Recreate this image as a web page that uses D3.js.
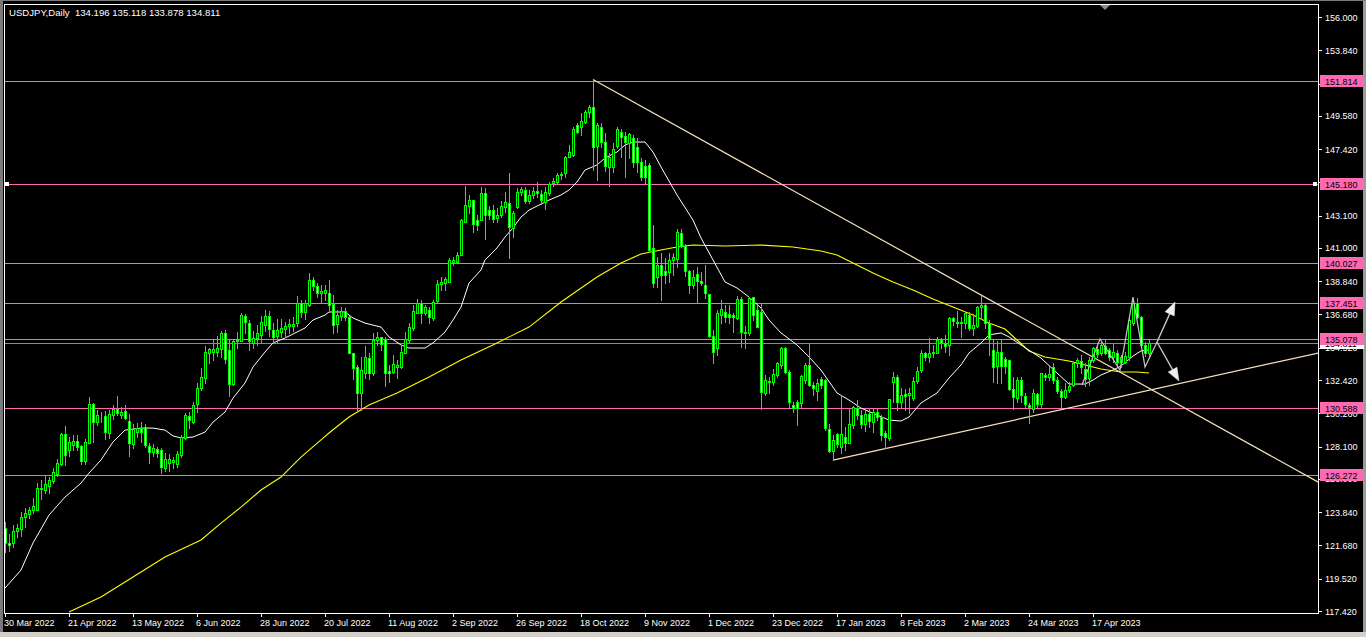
<!DOCTYPE html>
<html><head><meta charset="utf-8">
<script src="https://cdn.jsdelivr.net/npm/d3@7"></script>
<style>
html,body{margin:0;padding:0;background:#000;overflow:hidden}
svg{display:block}
</style></head><body>
<svg id="chart" width="1366" height="637"></svg>
<script>
// ---------------- data ----------------
const symbolTitle = "USDJPY,Daily";
const lastBarText = ["134.196", "135.118", "133.878", "134.811"];

// daily candles [open, high, low, close], bar 0 = 30 Mar 2022
const candles = [
[122.81,123.20,121.25,121.84],[121.84,122.40,121.30,121.68],[121.84,123.00,121.60,122.60],[122.60,123.10,122.25,122.80],
[122.73,123.83,122.30,123.55],[123.50,124.10,122.90,123.77],[123.70,124.20,123.44,123.98],[123.98,124.74,123.77,124.26],
[124.00,125.72,124.00,125.39],[125.32,125.93,124.67,125.43],[125.28,126.25,125.06,125.67],[125.54,126.14,125.06,125.93],
[125.88,126.69,125.75,126.43],[126.32,127.27,126.19,127.01],[126.97,129.00,126.90,128.92],[128.92,129.44,126.90,127.55],
[127.88,128.74,127.47,128.39],[128.20,128.85,127.88,128.48],[128.48,128.85,127.90,128.10],[128.14,128.20,126.97,127.19],
[127.19,128.57,126.95,128.42],[128.35,131.30,128.35,130.86],[130.86,130.90,128.42,129.68],[129.68,130.47,129.50,130.17],
[130.12,130.36,129.72,130.17],[130.08,130.42,128.57,129.07],[129.00,130.47,128.64,130.21],[130.15,130.80,129.87,130.54],
[130.52,131.38,130.15,130.30],[130.15,130.69,129.94,130.36],[130.40,130.80,129.87,129.94],[129.78,130.21,127.49,128.31],
[128.27,129.56,127.99,129.22],[129.07,129.61,128.74,129.29],[129.29,129.72,128.42,129.07],[129.35,129.56,128.09,128.20],
[128.14,128.31,127.01,127.77],[127.77,128.27,127.49,127.98],[127.92,128.09,127.44,127.66],[127.87,127.98,126.37,126.79],
[126.73,127.66,126.53,127.30],[127.05,127.60,126.53,127.27],[127.10,127.40,126.70,127.20],[127.00,127.80,126.80,127.60],
[127.55,128.85,127.40,128.74],[128.64,130.25,128.60,130.15],[130.08,130.35,129.30,129.82],[129.72,131.00,129.60,130.80],
[130.86,132.20,130.36,131.92],[131.89,133.20,131.80,132.60],[132.54,134.60,132.20,134.27],[134.20,134.50,133.50,134.42],
[134.27,135.00,133.70,134.42],[134.27,135.27,134.00,134.49],[134.42,135.60,133.90,135.45],[135.45,135.70,133.55,133.77],
[134.37,135.00,131.40,132.16],[132.16,135.00,132.10,134.95],[134.95,135.56,134.53,135.05],[134.98,136.80,134.95,136.64],
[136.58,136.70,135.45,136.20],[136.15,136.30,134.40,134.95],[134.85,135.60,134.50,135.13],[135.13,136.00,134.70,135.50],
[135.35,136.60,134.90,136.20],[136.00,137.00,135.60,136.58],[136.58,136.90,135.30,135.72],[135.67,136.10,134.80,135.20],
[135.28,136.40,134.80,135.67],[135.56,136.40,135.20,135.80],[135.72,136.20,135.20,135.93],[135.90,136.40,135.50,136.06],
[135.95,136.50,135.60,136.06],[136.10,137.90,135.90,137.44],[137.40,137.60,136.50,136.86],[136.82,137.60,136.40,137.44],
[137.30,139.40,137.23,138.92],[138.92,139.10,138.30,138.50],[138.53,138.70,137.80,138.05],[138.05,138.60,137.40,138.20],
[138.05,138.60,137.60,138.27],[138.10,138.90,137.00,137.30],[137.36,137.95,135.45,136.00],[136.06,137.00,135.56,136.65],
[136.58,137.19,136.30,136.93],[136.93,137.08,136.30,136.54],[136.54,136.58,134.16,134.20],[134.20,134.20,132.47,133.18],
[133.25,133.40,130.37,131.56],[131.56,133.90,130.50,133.10],[132.86,134.60,132.53,133.90],[133.83,134.15,132.47,132.90],
[132.86,135.45,132.75,135.02],[135.00,135.56,134.70,135.20],[135.20,135.24,134.37,134.76],[135.07,135.24,132.04,132.86],
[133.03,133.40,132.30,132.86],[132.97,134.05,132.86,133.47],[133.30,133.70,132.53,133.40],[133.30,134.70,133.20,134.22],
[134.20,135.56,134.16,135.07],[135.02,136.10,134.90,135.89],[135.82,137.30,135.67,136.93],[136.80,137.66,136.75,137.45],
[137.45,137.60,136.10,136.75],[136.75,137.30,136.65,137.14],[137.00,137.19,136.15,136.50],[136.43,137.62,136.30,137.51],
[137.58,138.90,137.51,138.66],[138.66,139.10,138.27,138.81],[138.70,139.14,138.27,138.96],[138.81,140.33,138.81,140.22],
[140.10,140.43,139.90,140.20],[140.10,140.76,140.00,140.55],[140.55,142.86,140.55,142.82],[142.71,145.02,142.71,143.79],
[143.73,144.44,143.25,144.12],[144.12,144.12,142.06,142.56],[142.82,143.14,142.17,142.50],[142.82,144.94,142.82,144.55],
[144.55,144.87,141.56,143.14],[143.47,143.73,142.86,143.14],[143.47,143.79,142.71,142.86],[142.93,143.57,142.71,143.14],
[143.14,144.07,143.03,143.73],[143.64,144.66,143.36,144.00],[143.95,145.89,140.33,142.38],[142.28,143.42,141.73,143.30],
[143.68,144.87,143.57,144.66],[144.66,144.94,144.44,144.81],[144.77,144.98,143.90,144.07],[144.07,144.77,143.90,144.44],
[144.44,144.98,144.22,144.70],[144.70,145.30,144.30,144.55],[144.50,144.77,143.86,144.12],[144.01,144.94,143.51,144.66],
[144.55,145.30,144.44,145.13],[145.20,145.52,145.02,145.37],[145.30,145.85,145.20,145.74],[145.74,145.95,145.46,145.80],
[145.85,146.97,145.59,146.90],[146.93,147.69,146.88,147.26],[147.04,148.88,146.97,148.70],[148.99,149.10,148.44,148.55],
[148.88,149.74,148.34,149.27],[149.20,149.96,149.10,149.85],[149.85,150.29,149.53,150.18],[150.13,151.91,146.06,147.58],
[147.62,149.10,145.41,148.99],[148.84,149.14,147.58,147.90],[147.90,148.44,146.00,146.30],[146.24,147.15,145.02,146.93],
[146.24,147.84,145.96,147.40],[147.62,148.84,147.47,148.70],[148.55,148.70,146.88,148.18],[148.27,148.55,145.63,147.90],
[147.84,148.49,146.82,148.38],[148.12,148.34,146.28,146.60],[147.58,148.12,145.96,146.60],[146.60,146.82,145.41,145.59],
[146.33,146.71,145.15,145.63],[146.39,146.50,140.76,140.87],[140.98,142.50,138.44,138.75],[139.09,140.43,138.49,139.90],
[139.89,140.65,137.62,139.24],[139.52,140.33,138.70,139.24],[139.46,140.65,138.81,140.22],[140.22,140.65,139.24,140.39],
[140.26,142.21,139.78,142.06],[141.99,142.21,141.08,141.13],[141.13,141.26,139.18,139.52],[139.52,139.57,138.05,138.59],
[138.59,139.57,138.38,139.09],[139.31,139.78,137.51,138.88],[138.86,139.46,138.59,138.70],[138.59,139.89,137.73,138.10],
[138.00,138.00,135.19,135.28],[135.28,135.67,133.55,134.26],[134.48,136.97,134.05,136.75],[136.64,137.62,136.10,137.01],
[136.86,137.30,136.21,136.49],[136.69,137.30,136.10,136.53],[136.64,136.75,135.56,136.53],[136.43,137.88,136.36,137.66],
[137.66,137.84,134.59,135.56],[135.56,135.93,134.48,135.45],[135.45,137.84,135.35,137.73],[137.79,137.84,136.32,136.64],
[136.97,137.30,135.84,135.89],[136.86,137.45,130.51,131.66],[131.56,132.75,131.45,132.42],[132.38,132.64,131.56,132.32],
[132.32,133.12,132.10,132.81],[132.75,133.61,132.60,133.51],[133.40,134.55,133.18,134.48],[134.48,134.55,132.90,132.97],
[132.97,133.07,130.69,131.02],[130.80,131.02,130.37,130.58],[131.02,131.12,129.50,130.58],[130.95,132.75,130.58,132.68],
[132.42,133.55,132.20,133.40],[133.40,134.76,132.03,132.10],[132.10,132.31,131.45,131.88],[131.73,132.47,131.12,132.20],
[132.47,132.60,131.88,132.10],[132.42,132.50,129.20,129.29],[129.22,129.57,127.77,127.83],[127.83,128.85,127.23,128.53],
[128.92,128.96,128.09,128.27],[128.05,131.45,127.70,128.92],[128.74,129.40,127.87,128.35],[128.35,130.58,128.31,129.57],
[129.50,130.73,129.29,130.65],[130.58,131.12,129.87,130.15],[130.15,130.47,129.29,129.57],[129.57,130.51,129.13,130.22],
[130.22,130.58,129.40,129.78],[129.72,130.51,129.07,130.37],[130.37,130.51,129.83,130.04],[130.04,130.15,128.53,128.85],
[128.96,129.13,127.98,128.70],[128.63,131.20,128.53,131.16],[132.31,132.96,131.02,132.60],[132.64,132.75,130.47,131.02],
[131.02,131.88,130.69,131.45],[131.50,131.82,130.47,131.38],[131.45,131.88,130.26,131.56],[131.23,132.64,131.12,132.38],
[132.38,133.29,132.20,133.03],[133.07,134.37,132.97,134.16],[134.16,134.26,133.72,133.90],[133.90,135.13,133.61,134.20],
[134.16,134.70,133.94,134.26],[134.20,135.24,134.16,135.02],[135.02,135.13,134.48,134.85],[134.80,135.35,134.26,134.63],
[134.70,136.49,134.05,136.43],[136.43,136.53,135.99,136.28],[136.21,136.92,135.89,136.10],[136.10,136.49,135.24,136.21],
[136.10,136.86,135.78,136.75],[136.64,136.86,135.67,135.78],[135.78,136.71,135.35,136.00],[135.93,137.23,135.84,137.14],
[137.14,137.88,136.36,137.30],[137.30,137.35,135.78,136.10],[136.10,136.32,134.05,135.13],[134.37,135.02,132.31,133.25],
[133.33,134.98,132.21,134.26],[134.26,135.02,132.21,133.33],[133.77,133.90,132.86,133.33],[133.72,133.75,131.77,131.82],
[131.82,132.64,130.52,131.30],[131.23,132.64,131.02,132.42],[132.42,132.64,131.02,131.45],[131.38,131.56,130.69,130.87],
[130.80,130.95,129.61,130.69],[130.52,131.82,130.37,131.56],[131.52,131.56,130.69,130.87],[130.87,132.90,130.65,132.86],
[132.77,132.86,132.42,132.64],[132.64,133.40,132.42,132.81],[133.25,133.51,132.21,132.42],[132.42,132.64,131.56,131.73],
[131.71,131.82,130.58,131.30],[131.34,132.21,131.23,131.77],[131.77,132.31,131.67,132.03],[132.10,133.61,132.03,133.55],
[133.51,133.83,133.29,133.72],[133.68,134.05,132.86,133.25],[133.12,133.51,132.03,132.47],[132.53,133.94,132.10,133.72],
[133.72,134.59,133.61,134.48],[134.41,134.70,133.94,134.11],[134.16,134.91,134.05,134.70],[134.63,135.07,134.11,134.20],
[134.37,134.48,133.72,133.90],[133.90,134.80,133.61,134.26],[134.20,134.37,133.40,133.61],[133.61,134.05,133.29,133.90],
[133.61,134.26,133.51,133.98],[133.90,136.43,133.72,136.32],[136.10,137.73,135.99,137.45],[137.45,137.73,136.43,136.50],
[136.49,136.58,134.59,134.70],[134.70,134.91,134.00,134.20],[134.196,135.118,133.878,134.811]
];

// white moving average, sampled [bar, price]
const whiteMA = [
[0,118.91],[4,120.08],[7,121.84],[11,123.65],[15,124.82],[19,125.73],[21,126.38],[24,127.23],[27,128.40],[30,129.17],
[34,129.30],[37,129.30],[40,129.17],[42,128.79],[44,128.66],[47,128.72],[50,129.04],[52,129.69],[55,130.34],[57,131.25],
[60,132.23],[62,133.27],[65,134.24],[67,134.83],[70,135.15],[72,135.41],[75,135.80],[77,136.32],[80,136.64],[81,136.84],
[85,136.84],[87,136.45],[90,136.12],[94,135.86],[96,135.22],[99,134.70],[101,134.50],[105,134.50],[107,134.83],[110,135.54],
[112,136.32],[114,137.16],[116,138.72],[119,139.57],[120,140.22],[123,141.00],[125,141.71],[127,142.30],[129,143.01],[131,143.46],
[134,143.85],[136,144.11],[139,144.44],[141,144.76],[143,145.28],[145,146.06],[148,146.39],[150,146.84],[153,147.23],[155,147.69],
[157,147.88],[160,147.88],[162,147.23],[164,146.26],[168,144.44],[172,142.81],[174,141.65],[177,140.22],[180,138.79],[183,138.40],
[186,137.81],[189,137.10],[191,136.32],[194,135.48],[198,134.70],[201,133.92],[204,133.07],[208,131.58],[211,131.12],[214,130.60],
[218,130.15],[221,129.82],[224,129.76],[226,130.02],[229,130.93],[233,131.58],[236,132.55],[239,133.40],[241,134.18],[244,134.83],
[246,135.35],[249,135.48],[251,135.22],[254,134.70],[259,133.85],[263,132.88],[266,132.16],[270,132.16],[272,132.42],[274,132.75],
[277,133.07],[279,133.33],[282,133.98],[284,134.31],[286,134.37]
];

// yellow moving average, sampled [bar, price]
const yellowMA = [
[16,117.35],[24,118.33],[32,119.63],[40,120.93],[49,122.03],[54,123.13],[59,124.17],[64,125.28],[69,126.12],[74,127.42],
[79,128.53],[81,128.98],[86,130.02],[91,130.80],[98,131.58],[106,132.62],[114,133.72],[123,134.83],[131,135.86],[139,137.49],
[148,139.11],[154,140.02],[159,140.61],[164,140.87],[168,141.06],[172,141.19],[180,141.13],[189,141.19],[197,141.06],[204,140.80],
[208,140.54],[212,140.02],[217,139.37],[222,138.79],[227,138.27],[232,137.68],[237,137.16],[242,136.64],[246,136.12],[250,135.73],
[253,135.02],[256,134.31],[260,133.92],[266,133.66],[270,133.40],[274,133.14],[279,132.94],[283,132.94],[286,132.88]
];

const levels = [151.814, 145.180, 140.027, 137.451, 135.078, 130.588, 126.272];
const selectedLevel = 145.180;
const bidPrice = 134.811;

const priceTicks = ["156.000","153.840","151.680","149.580","147.420","145.260","143.100","141.000","138.840","136.680",
  "134.520","132.420","130.260","128.100","126.000","123.840","121.680","119.520","117.420"];

const dateTicks = [[0,"30 Mar 2022"],[16,"21 Apr 2022"],[32,"13 May 2022"],[48,"6 Jun 2022"],[64,"28 Jun 2022"],
  [80,"20 Jul 2022"],[96,"11 Aug 2022"],[112,"2 Sep 2022"],[128,"26 Sep 2022"],[144,"18 Oct 2022"],[160,"9 Nov 2022"],
  [176,"1 Dec 2022"],[192,"23 Dec 2022"],[208,"17 Jan 2023"],[224,"8 Feb 2023"],[240,"2 Mar 2023"],[256,"24 Mar 2023"],
  [272,"17 Apr 2023"]];

// trend rays: two anchors [bar, price]
const trendRays = [
  [[147,151.94],[246,137.66]],
  [[207,127.22],[328,134.16]]
];
// hand-drawn zigzag and arrows [bar, price]
const zigzag = [[269.25,132.10],[273.75,135.09],[278.75,133.07],[282,137.81],[285,133.27],[288,134.89]];
const arrows = [
  [[288,134.89],[292.5,137.49]],
  [[288,134.89],[293.5,132.36]]
];

// ---------------- drawing ----------------
const W = 1366, H = 637;
const plotL = 4, plotR = 1318, plotT = 4, plotB = 613;
const svg = d3.select("#chart");
const FONT = "'Liberation Sans', Arial, sans-serif";

const x = d3.scaleLinear().domain([0, 328]).range([5, 1317]);
const y = d3.scaleLinear().domain([117.42, 156.0]).range([611, 17]);

svg.append("rect").attr("width", W).attr("height", H).attr("fill", "#000");
// window frame greys
svg.append("rect").attr("x", 0).attr("y", 0).attr("width", 3).attr("height", H).attr("fill", "#7a7a7a");
svg.append("rect").attr("x", 1363).attr("y", 0).attr("width", 3).attr("height", H).attr("fill", "#9a9a9a");
svg.append("rect").attr("x", 0).attr("y", 0).attr("width", W).attr("height", 1).attr("fill", "#7a7a7a");
svg.append("rect").attr("x", 0).attr("y", 632).attr("width", W).attr("height", 5).attr("fill", "#d4d0c8");

const defs = svg.append("defs");
defs.append("clipPath").attr("id", "plotClip").append("rect")
  .attr("x", plotL + 1).attr("y", plotT + 1).attr("width", plotR - plotL - 1).attr("height", plotB - plotT - 1);

const plot = svg.append("g").attr("clip-path", "url(#plotClip)");

// horizontal levels
const pink = "#ff69b4";
plot.append("g").attr("shape-rendering", "crispEdges").selectAll("line").data(levels).join("line")
  .attr("x1", plotL).attr("x2", plotR)
  .attr("y1", d => Math.round(y(d)) + 0.5).attr("y2", d => Math.round(y(d)) + 0.5)
  .attr("stroke", pink).attr("stroke-width", 1);

// bid line
plot.append("line").attr("shape-rendering", "crispEdges")
  .attr("x1", plotL).attr("x2", plotR)
  .attr("y1", Math.round(y(bidPrice)) + 0.5).attr("y2", Math.round(y(bidPrice)) + 0.5)
  .attr("stroke", "#8a8a8a");

// moving averages
const maLine = d3.line().x(d => x(d[0])).y(d => y(d[1]));
plot.append("path").datum(yellowMA).attr("d", maLine).attr("fill", "none").attr("stroke", "#ffff00").attr("stroke-width", 1.1);
plot.append("path").datum(whiteMA).attr("d", maLine).attr("fill", "none").attr("stroke", "#ffffff").attr("stroke-width", 1);

// trend rays
const rayColor = "#f7e2bd";
trendRays.forEach(([a, b]) => {
  const slope = (b[1] - a[1]) / (b[0] - a[0]);
  const endBar = 330;
  plot.append("line")
    .attr("x1", x(a[0])).attr("y1", y(a[1]))
    .attr("x2", x(endBar)).attr("y2", y(a[1] + slope * (endBar - a[0])))
    .attr("stroke", rayColor).attr("stroke-width", 1.2);
});

// candles
const green = "#00ff00";
const cg = plot.append("g").attr("shape-rendering", "crispEdges");
const cj = cg.selectAll("g").data(candles).join("g");
cj.append("line")
  .attr("x1", (d, i) => Math.round(x(i)) + 0.5).attr("x2", (d, i) => Math.round(x(i)) + 0.5)
  .attr("y1", d => Math.round(y(d[1]))).attr("y2", d => Math.round(y(d[2])) + 1)
  .attr("stroke", green);
cj.append("rect")
  .attr("x", (d, i) => Math.round(x(i)) - 0.5)
  .attr("y", d => Math.round(y(Math.max(d[0], d[3]))) + 0.5)
  .attr("width", 2)
  .attr("height", d => Math.max(0, Math.round(y(Math.min(d[0], d[3]))) - Math.round(y(Math.max(d[0], d[3])))))
  .attr("fill", d => d[3] >= d[0] ? "#000" : "#fff")
  .attr("stroke", green).attr("stroke-width", 1);

// zigzag & arrows
const drawCol = "#c4c4c4";
plot.append("path").datum(zigzag).attr("d", maLine).attr("fill", "none").attr("stroke", drawCol).attr("stroke-width", 1.2);
arrows.forEach(([a, b]) => {
  const x1 = x(a[0]), y1 = y(a[1]), x2 = x(b[0]), y2 = y(b[1]);
  const ang = Math.atan2(y2 - y1, x2 - x1);
  const len = 13, hw = 5;
  const bx = x2 - len * Math.cos(ang), by = y2 - len * Math.sin(ang);
  plot.append("line").attr("x1", x1).attr("y1", y1).attr("x2", bx).attr("y2", by)
    .attr("stroke", drawCol).attr("stroke-width", 1.4);
  const p1 = [bx + hw * Math.sin(ang), by - hw * Math.cos(ang)];
  const p2 = [bx - hw * Math.sin(ang), by + hw * Math.cos(ang)];
  plot.append("polygon").attr("points", [[x2, y2], p1, p2].map(p => p.join(",")).join(" "))
    .attr("fill", "#f0f0f0").attr("stroke", "#f0f0f0").attr("stroke-width", 0.5);
});

// frame
svg.append("rect").attr("shape-rendering", "crispEdges")
  .attr("x", plotL + 0.5).attr("y", plotT + 0.5).attr("width", plotR - plotL).attr("height", plotB - plotT)
  .attr("fill", "none").attr("stroke", "#ffffff");

// selection handles on 145.180 level
[plotL + 1, plotR - 5].forEach(hx => {
  svg.append("rect").attr("x", hx).attr("y", Math.round(y(selectedLevel)) - 2).attr("width", 4).attr("height", 4)
    .attr("fill", "#fff");
});

// shift marker
svg.append("polygon").attr("points", "1100,5 1110,5 1105,10").attr("fill", "#8c8c8c");

// price axis
const pa = svg.append("g");
pa.selectAll("line").data(priceTicks).join("line").attr("shape-rendering", "crispEdges")
  .attr("x1", plotR).attr("x2", plotR + 4)
  .attr("y1", d => Math.round(y(+d)) + 0.5).attr("y2", d => Math.round(y(+d)) + 0.5)
  .attr("stroke", "#fff");
pa.selectAll("text").data(priceTicks).join("text")
  .attr("x", plotR + 7).attr("y", d => y(+d) + 3.5)
  .attr("fill", "#fff").attr("font-family", FONT).attr("font-size", 9).text(d => d);

// bid label (white)
svg.append("rect").attr("x", plotR + 2).attr("y", Math.round(y(bidPrice)) - 6).attr("width", 44).attr("height", 12).attr("fill", "#fff");
svg.append("text").attr("x", plotR + 7).attr("y", y(bidPrice) + 3.5).attr("fill", "#000")
  .attr("font-family", FONT).attr("font-size", 9).text(bidPrice.toFixed(3));

// level labels
const lg = svg.append("g");
levels.forEach(v => {
  const yy = Math.round(y(v));
  lg.append("rect").attr("x", plotR + 2).attr("y", yy - 6).attr("width", 44).attr("height", 12).attr("fill", pink);
  lg.append("text").attr("x", plotR + 7).attr("y", yy + 4).attr("fill", "#000")
    .attr("font-family", FONT).attr("font-size", 9).text(v.toFixed(3));
});

// time axis
const ta = svg.append("g");
ta.selectAll("line").data(dateTicks).join("line").attr("shape-rendering", "crispEdges")
  .attr("x1", d => Math.round(x(d[0])) + 0.5).attr("x2", d => Math.round(x(d[0])) + 0.5)
  .attr("y1", plotB).attr("y2", plotB + 4).attr("stroke", "#fff");
ta.selectAll("text").data(dateTicks).join("text")
  .attr("x", d => Math.round(x(d[0])) - 1).attr("y", 626)
  .attr("fill", "#fff").attr("font-family", FONT).attr("font-size", 9).text(d => d[1]);

// header
svg.append("text").attr("x", 9).attr("y", 16).attr("fill", "#fff")
  .attr("font-family", FONT).attr("font-size", 9.6)
  .attr("xml:space", "preserve")
  .text(symbolTitle + "  " + lastBarText.join(" "));
</script>
</body></html>
